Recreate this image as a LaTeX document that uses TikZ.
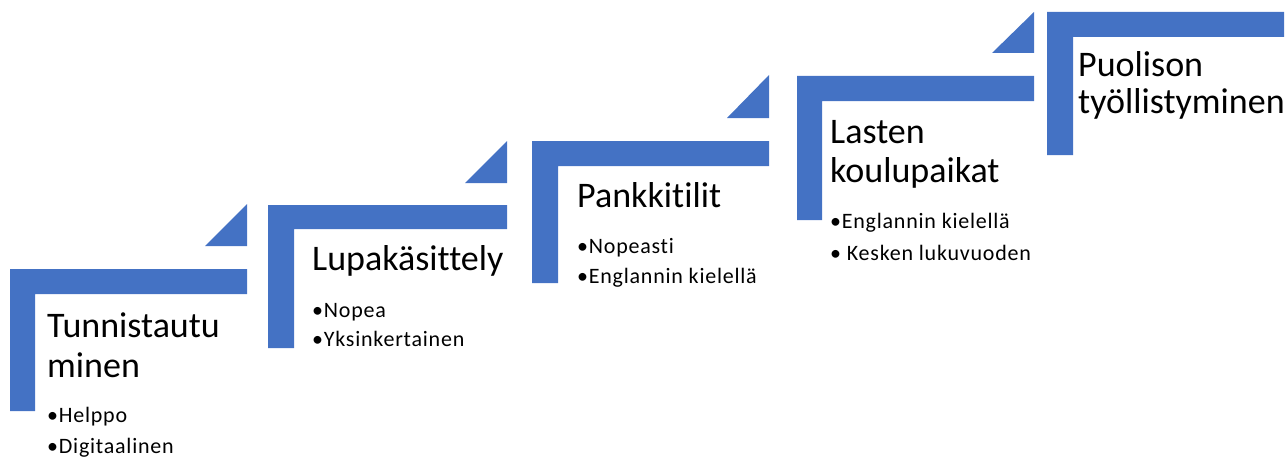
\documentclass[tikz,border=0pt]{standalone}
\usepackage{fontspec}
\setmainfont{Carlito}[Ligatures=NoCommon]
\definecolor{stairblue}{HTML}{4472C4}
\tikzstyle{stair}=[
    fill = stairblue,
    draw = none
]
\tikzstyle{title text}=[
    anchor = base west,
    inner sep = 0pt,
    font = \fontsize{36}{40}\selectfont
]
\tikzstyle{item text}=[
    anchor = base west,
    inner sep = 0pt,
    font = \fontsize{22}{26}\selectfont\addfontfeature{LetterSpace=3.5}
]

\begin{document}
\begin{tikzpicture}[x=1pt, y=-1pt]
        \useasboundingbox (0,0) rectangle (1285,460);

        % step 1
        \fill[stair] (10,269) -- (247,269) -- (247,294) -- (35,294) -- (35,411) -- (10,411) -- cycle;
        \fill[stair] (205,246) -- (247,246) -- (247,204) -- cycle;
        \node[title text] (t1a) at (47,337) {Tunnistautu};
        \node[title text] (t1b) at (47,377) {minen};
        \node[item text] (i1a) at (47,422) {•Helppo};
        \node[item text] (i1b) at (47,453) {•Digitaalinen};

        % step 2
        \fill[stair] (268,205) -- (507,205) -- (507,229) -- (294,229) -- (294,348) -- (268,348) -- cycle;
        \fill[stair] (465,183) -- (507,183) -- (507,141) -- cycle;
        \node[title text] (t2) at (312,270) {Lupakäsittely};
        \node[item text] (i2a) at (312,317) {•Nopea};
        \node[item text] (i2b) at (312,346) {•Yksinkertainen};

        % step 3
        \fill[stair] (532,141) -- (769,141) -- (769,166) -- (558,166) -- (558,283) -- (532,283) -- cycle;
        \fill[stair] (727,118) -- (769,118) -- (769,75) -- cycle;
        \node[title text] (t3) at (577,207) {Pankkitilit};
        \node[item text] (i3a) at (577,253) {•Nopeasti};
        \node[item text] (i3b) at (577,283) {•Englannin kielellä};

        % step 4
        \fill[stair] (797,76) -- (1034,76) -- (1034,101) -- (822,101) -- (822,220) -- (797,220) -- cycle;
        \fill[stair] (992,53) -- (1034,53) -- (1034,12) -- cycle;
        \node[title text] (t4a) at (830,143) {Lasten};
        \node[title text] (t4b) at (830,182) {koulupaikat};
        \node[item text] (i4a) at (830,228) {•Englannin kielellä};
        \node[item text] (i4b) at (830,260) {• Kesken lukuvuoden};

        % step 5
        \fill[stair] (1047,12) -- (1284,12) -- (1284,37) -- (1073,37) -- (1073,155) -- (1047,155) -- cycle;
        \node[title text] (t5a) at (1078,77) {Puolison};
        \node[title text] (t5b) at (1078,113) {työllistyminen};

    \end{tikzpicture}
\end{document}
